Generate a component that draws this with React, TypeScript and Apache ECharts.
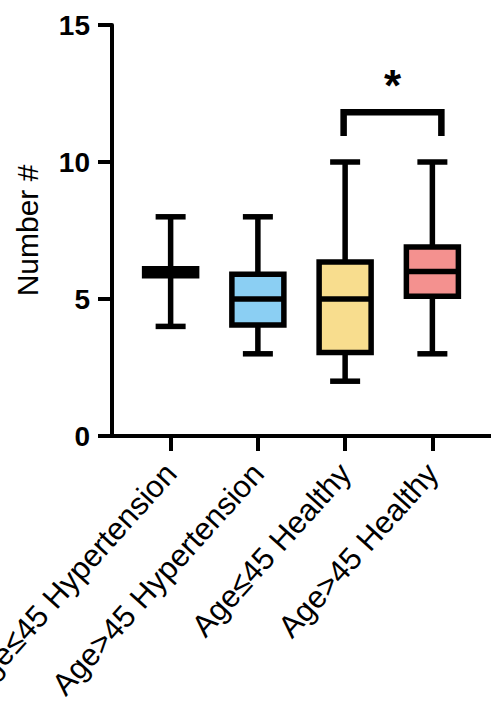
import React, { useEffect, useRef } from "react";
import * as echarts from "echarts";

const categories = [
  "Age≤45 Hypertension",
  "Age>45 Hypertension",
  "Age≤45 Healthy",
  "Age>45 Healthy",
];
const minValues = [4, 3, 2, 3];
const q1Values = [5.85, 4.05, 3.05, 5.1];
const medianValues = [6, 5, 5, 6];
const q3Values = [6.1, 5.9, 6.35, 6.9];
const maxValues = [8, 8, 10, 10];
const boxColors = ["#1a1a1a", "#8BCFF3", "#F8DD8E", "#F4918F"];
const yMin = 0;
const yMax = 15;
const yInterval = 5;
const sigPair = [2, 3];
const sigLevels = [11.82, 10.95];
const sigLabel = "*";

const FONT = "'Liberation Sans', Arial, sans-serif";

export default function App() {
  const ref = useRef<HTMLDivElement>(null);

  useEffect(() => {
    if (!ref.current) return;
    const chart = echarts.init(ref.current, undefined, { renderer: "svg" });

    const boxData = categories.map((_, i) => [
      i,
      minValues[i],
      q1Values[i],
      medianValues[i],
      q3Values[i],
      maxValues[i],
    ]);

    const option: any = {
      animation: false,
      backgroundColor: "#fff",
      grid: {
        left: 127,
        width: 349,
        top: 25,
        height: 411,
        containLabel: false,
        outerBoundsMode: "none",
      },
      xAxis: {
        type: "category",
        data: categories,
        axisLine: { show: false },
        axisTick: {
          show: true,
          alignWithLabel: true,
          length: 15,
          lineStyle: { color: "#000", width: 4 },
        },
        axisLabel: {
          interval: 0,
          rotate: 48,
          margin: 32,
          fontSize: 31,
          fontFamily: FONT,
          color: "#000",
        },
        splitLine: { show: false },
      },
      yAxis: {
        type: "value",
        min: yMin,
        max: yMax,
        interval: yInterval,
        offset: 15,
        name: "Number #",
        nameLocation: "middle",
        nameGap: 70,
        nameTextStyle: { fontSize: 30, fontFamily: FONT, color: "#000" },
        axisLine: { show: true, lineStyle: { color: "#000", width: 4 } },
        axisTick: { show: true, length: 14, lineStyle: { color: "#000", width: 4 } },
        axisLabel: {
          margin: 22,
          fontSize: 28,
          fontWeight: "bold",
          fontFamily: FONT,
          color: "#000",
        },
        splitLine: { show: false },
      },
      graphic: [
        {
          type: "line",
          shape: { x1: 110, y1: 436, x2: 491, y2: 436 },
          style: { stroke: "#000", lineWidth: 4 },
        },
      ],
      series: [
        {
          type: "custom",
          clip: false,
          data: boxData,
          encode: { x: 0, y: [1, 2, 3, 4, 5] },
          renderItem: (params: any, api: any) => {
            const i = api.value(0);
            const lo = api.coord([i, api.value(1)]);
            const q1 = api.coord([i, api.value(2)]);
            const med = api.coord([i, api.value(3)]);
            const q3 = api.coord([i, api.value(4)]);
            const hi = api.coord([i, api.value(5)]);
            const x = lo[0];
            const bw = 52;
            const cw = 30;
            const lw = 5.5;
            const stroke = { stroke: "#000", lineWidth: lw, lineCap: "butt" };
            return {
              type: "group",
              children: [
                { type: "line", shape: { x1: x, y1: hi[1], x2: x, y2: q3[1] }, style: stroke },
                { type: "line", shape: { x1: x, y1: q1[1], x2: x, y2: lo[1] }, style: stroke },
                { type: "line", shape: { x1: x - cw / 2, y1: hi[1], x2: x + cw / 2, y2: hi[1] }, style: stroke },
                { type: "line", shape: { x1: x - cw / 2, y1: lo[1], x2: x + cw / 2, y2: lo[1] }, style: stroke },
                {
                  type: "rect",
                  shape: { x: x - bw / 2, y: q3[1], width: bw, height: q1[1] - q3[1] },
                  style: { fill: boxColors[i], stroke: "#000", lineWidth: lw },
                },
                { type: "line", shape: { x1: x - bw / 2, y1: med[1], x2: x + bw / 2, y2: med[1] }, style: stroke },
              ],
            };
          },
          z: 3,
        },
        {
          type: "custom",
          clip: false,
          data: [[sigPair[0], sigPair[1], sigLevels[0], sigLevels[1]]],
          encode: { x: [0, 1], y: [2, 3] },
          renderItem: (params: any, api: any) => {
            const a = api.coord([api.value(0), api.value(2)]);
            const b = api.coord([api.value(1), api.value(3)]);
            const xl = a[0] - 1.5;
            const xr = b[0] + 9;
            const yt = a[1];
            const yb = b[1];
            return {
              type: "group",
              children: [
                {
                  type: "polyline",
                  shape: { points: [[xl, yb], [xl, yt], [xr, yt], [xr, yb]] },
                  style: { stroke: "#000", lineWidth: 6.5, fill: "none", lineJoin: "miter", lineCap: "butt" },
                },
                {
                  type: "text",
                  x: (xl + xr) / 2,
                  y: yt - 5,
                  style: {
                    text: sigLabel,
                    fontSize: 44,
                    fontWeight: "bold",
                    fontFamily: FONT,
                    fill: "#000",
                    align: "center",
                    verticalAlign: "bottom",
                  },
                },
              ],
            };
          },
          z: 3,
        },
      ],
    };

    chart.setOption(option);
    return () => chart.dispose();
  }, []);

  return (
    <div
      ref={ref}
      style={{ position: "fixed", left: 0, top: 0, width: 491, height: 710 }}
    />
  );
}
